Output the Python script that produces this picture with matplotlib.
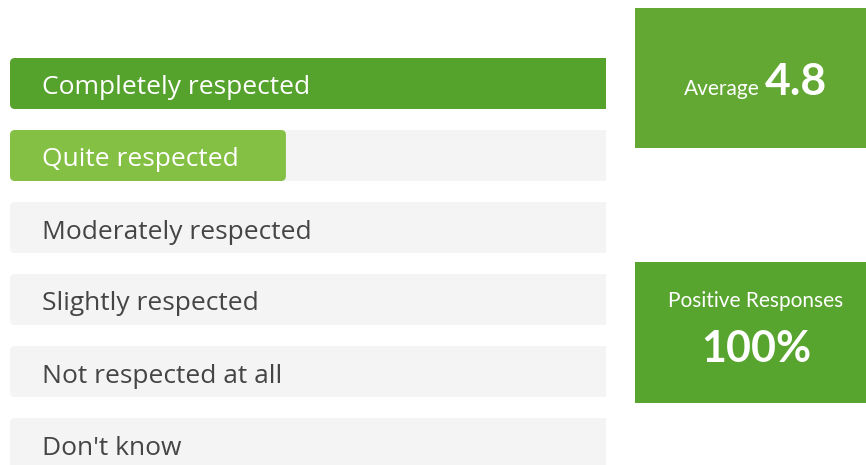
import matplotlib.pyplot as plt
from matplotlib.patches import FancyBboxPatch, Rectangle

# survey answers and share of responses (%)
categories = ["Completely respected", "Quite respected", "Moderately respected",
              "Slightly respected", "Not respected at all", "Don't know"]
shares = [80, 20, 0, 0, 0, 0]
bar_colors = ["#55a32d", "#84c044", "#84c044", "#84c044", "#84c044", "#84c044"]
average = 4.8
positive = 100

W, H = 866, 465
fig = plt.figure(figsize=(W / 100, H / 100), dpi=100)

# bar area: x 10..606 px, full height
ax = fig.add_axes([10 / W, 0, 596 / W, 1])
xmax = 43.2
ax.set_xlim(0, xmax)
ax.set_ylim((H - 83.5) / 72, -83.5 / 72)
ax.axis("off")

bar_h = 51 / 72
px_x = 596 / xmax           # pixels per x unit
aspect = px_x / 72          # y units per x unit for equal pixel size
r = 5 / px_x

ys = list(range(len(categories)))
bg = ax.barh(ys, [100] * len(categories), height=bar_h, color="none")
fg = ax.barh(ys, shares, height=bar_h, color="none")


def rounded(bar, color, z):
    x, y = bar.get_x(), bar.get_y()
    w, h = bar.get_width(), bar.get_height()
    if w <= 0:
        return
    p = FancyBboxPatch((x, y), w, h,
                       boxstyle=f"round,pad=0,rounding_size={r}",
                       mutation_aspect=aspect, facecolor=color,
                       edgecolor="none", zorder=z)
    ax.add_patch(p)


for b in bg:
    rounded(b, "#f4f4f4", 1)
for b, c in zip(fg, bar_colors):
    rounded(b, c, 2)

for y, cat, s in zip(ys, categories, shares):
    tx = 32 / px_x
    col = "white" if s > 0 else "#454545"
    ax.text(tx, y + 11 / 72, cat, ha="left", va="baseline", fontsize=19,
            family="Open Sans", color=col, zorder=3)

# summary boxes
fig.add_artist(Rectangle((635 / W, 1 - 148 / H), 1 - 635 / W, 140 / H,
                         transform=fig.transFigure, facecolor="#62a832",
                         edgecolor="none"))
fig.add_artist(Rectangle((635 / W, 1 - 403 / H), 1 - 635 / W, 141 / H,
                         transform=fig.transFigure, facecolor="#57a42e",
                         edgecolor="none"))

fig.text(760 / W, 1 - 95 / H, "Average", ha="right", va="baseline",
         fontsize=15, family="Lato", color="white")
fig.text(765 / W, 1 - 95 / H, f"{average}", ha="left", va="baseline",
         fontsize=32, family="Lato", weight="bold", color="white")
fig.text(756 / W, 1 - 301 / H, "Positive Responses", ha="center", va="center",
         fontsize=15, family="Lato", color="white")
fig.text(756 / W, 1 - 362 / H, f"{positive}%", ha="center", va="baseline",
         fontsize=31, family="Lato", weight="bold", color="white")

fig.savefig("out.png", dpi=100)
